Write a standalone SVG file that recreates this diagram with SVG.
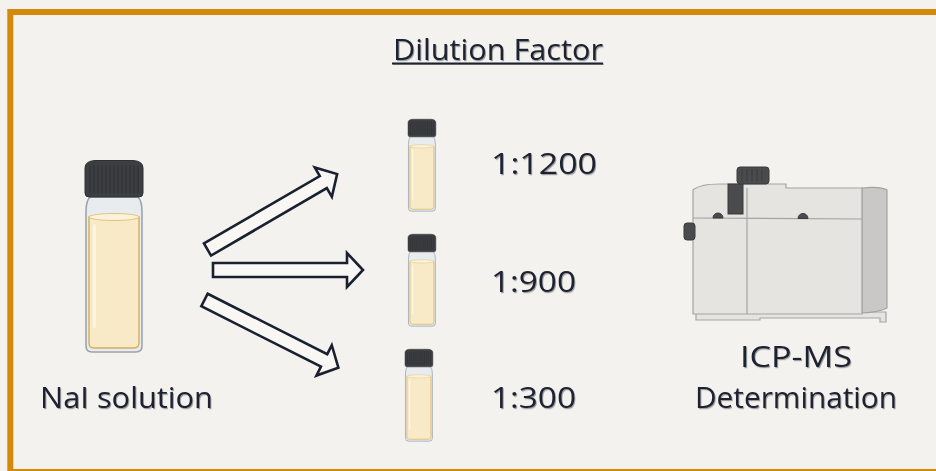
<svg xmlns="http://www.w3.org/2000/svg" xmlns:xlink="http://www.w3.org/1999/xlink" width="936" height="471" viewBox="0 0 936 471">
  <style>
    .lbl { font-family: "Open Sans", "Noto Sans", "DejaVu Sans", sans-serif; fill: #1b2030; font-size: 29.5px; filter: url(#txtShadow); }
    .arrow { fill: #f8f7f4; stroke: #1a2030; stroke-width: 2.6; stroke-linejoin: miter; }
    .glass { fill: #e8ecef; stroke: #9ba4ad; stroke-width: 1.6; }
    .liquid { fill: #f8eac6; stroke: #d4ad5e; stroke-width: 1.4; }
    .meniscus { fill: #fbf2da; stroke: #e2c480; stroke-width: 1; }
    .cap { fill: #3c3e41; stroke: #2e3032; stroke-width: 1; }
    .ridge { stroke: #2a2c2e; stroke-width: 0.9; }
    .body { fill: #e6e4e1; stroke: #a3a3a3; stroke-width: 1.2; }
    .dark { fill: #4a4b4d; stroke: #3a3b3c; stroke-width: 1; }
  </style>
  <defs>
    <filter id="txtShadow" x="-5%" y="-20%" width="110%" height="140%">
      <feDropShadow dx="1" dy="1.2" stdDeviation="0.6" flood-color="#000" flood-opacity="0.35"/>
    </filter>
    <!-- hollow block arrow, tail at origin pointing along +x -->
    <polygon id="blockArrow" class="arrow" points="0,-7 134,-7 134,-17 150,0 134,17 134,7 0,7"/>
    <!-- screw-cap sample vial, 58 x 192 units -->
    <g id="vial">
      <path class="glass" d="M5,37 L53,37 Q57,41 57,52 L57,186 Q57,192 51,192 L7,192 Q1,192 1,186 L1,52 Q1,41 5,37 Z"/>
      <path class="liquid" d="M4,57 L4,183 Q4,188 9,188 L49,188 Q54,188 54,183 L54,57 Z"/>
      <ellipse class="meniscus" cx="29" cy="57" rx="25" ry="3.5"/>
      <rect x="8" y="64" width="3" height="104" rx="1.5" fill="#ffffff" opacity="0.5"/>
      <path class="cap" d="M0,8 Q0,1 10,0.5 L48,0.5 Q58,1 58,8 L58,33 Q58,37 54,37 L4,37 Q0,37 0,33 Z"/>
      <g class="ridge">
        <line x1="5" y1="6" x2="5" y2="33"/><line x1="9" y1="5" x2="9" y2="33"/>
        <line x1="13" y1="5" x2="13" y2="33"/><line x1="17" y1="5" x2="17" y2="33"/>
        <line x1="21" y1="5" x2="21" y2="33"/><line x1="25" y1="5" x2="25" y2="33"/>
        <line x1="29" y1="5" x2="29" y2="33"/><line x1="33" y1="5" x2="33" y2="33"/>
        <line x1="37" y1="5" x2="37" y2="33"/><line x1="41" y1="5" x2="41" y2="33"/>
        <line x1="45" y1="5" x2="45" y2="33"/><line x1="49" y1="5" x2="49" y2="33"/>
        <line x1="53" y1="6" x2="53" y2="33"/>
      </g>
    </g>
  </defs>

  <!-- canvas and frame -->
  <rect x="0" y="0" width="936" height="471" fill="#f4f2ee"/>
  <rect x="10.3" y="12" width="940" height="460" fill="none" stroke="#d4890b" stroke-width="6"/>

  <!-- heading -->
  <g id="title">
    <text class="lbl" x="393" y="60" font-size="28" textLength="210" lengthAdjust="spacingAndGlyphs">Dilution Factor</text>
    <rect x="392" y="62.5" width="211" height="2" fill="#1b2030" filter="url(#txtShadow)"/>
  </g>

  <!-- stock solution -->
  <g id="stock">
    <use xlink:href="#vial" href="#vial" transform="translate(85,160)"/>
    <text class="lbl" x="40" y="408" textLength="173" lengthAdjust="spacingAndGlyphs">NaI solution</text>
  </g>

  <!-- diluted samples -->
  <g id="dil1200">
    <use xlink:href="#vial" href="#vial" transform="translate(408,119) scale(0.48)"/>
    <text class="lbl" x="491" y="174" textLength="106" lengthAdjust="spacingAndGlyphs">1:1200</text>
  </g>
  <g id="dil900">
    <use xlink:href="#vial" href="#vial" transform="translate(408,234) scale(0.48)"/>
    <text class="lbl" x="491" y="292" textLength="85" lengthAdjust="spacingAndGlyphs">1:900</text>
  </g>
  <g id="dil300">
    <use xlink:href="#vial" href="#vial" transform="translate(405,349) scale(0.48)"/>
    <text class="lbl" x="491" y="408" textLength="85" lengthAdjust="spacingAndGlyphs">1:300</text>
  </g>

  <!-- ICP-MS instrument -->
  <g id="icpms">
    <!-- feet / base -->
    <path class="body" d="M696,312 L696,320 L760,320 L760,318 L880,318 L880,322 L886,322 L886,312 Z"/>
    <!-- right side panel -->
    <path d="M862,188 Q880,186 887,190 L887,308 Q880,312 862,313 Z" fill="#c9c8c6" stroke="#a3a3a3" stroke-width="1.2"/>
    <!-- front body -->
    <path class="body" d="M693,190 Q700,184 720,184 L786,184 L786,188 L862,188 L862,314 L693,314 Z"/>
    <line x1="693" y1="218" x2="862" y2="219" stroke="#a3a3a3" stroke-width="1.2"/>
    <line x1="747" y1="188" x2="747" y2="314" stroke="#a3a3a3" stroke-width="1.2"/>
    <!-- torch box and sample column -->
    <rect class="dark" x="728" y="184" width="15" height="30"/>
    <rect class="dark" x="737" y="167" width="32" height="17" rx="3"/>
    <g stroke="#38393a" stroke-width="0.8">
      <line x1="742" y1="169" x2="742" y2="182"/><line x1="747" y1="169" x2="747" y2="182"/>
      <line x1="752" y1="169" x2="752" y2="182"/><line x1="757" y1="169" x2="757" y2="182"/>
      <line x1="762" y1="169" x2="762" y2="182"/>
    </g>
    <!-- side knob -->
    <rect class="dark" x="684" y="223" width="11" height="17" rx="3"/>
    <!-- indicator domes -->
    <path class="dark" d="M713,218 A5,5 0 0 1 723,218 Z"/>
    <path class="dark" d="M798,218.5 A5,5 0 0 1 808,218.5 Z"/>
    <text class="lbl" x="740" y="367" textLength="112" lengthAdjust="spacingAndGlyphs">ICP-MS</text>
    <text class="lbl" x="695" y="408" textLength="202" lengthAdjust="spacingAndGlyphs">Determination</text>
  </g>

  <!-- dilution arrows -->
  <g id="connectors">
    <use xlink:href="#blockArrow" href="#blockArrow" transform="translate(207.5,249.5) rotate(-30.2)"/>
    <use xlink:href="#blockArrow" href="#blockArrow" transform="translate(213,270)"/>
    <use xlink:href="#blockArrow" href="#blockArrow" transform="translate(204.5,300) rotate(26.8)"/>
  </g>
</svg>
